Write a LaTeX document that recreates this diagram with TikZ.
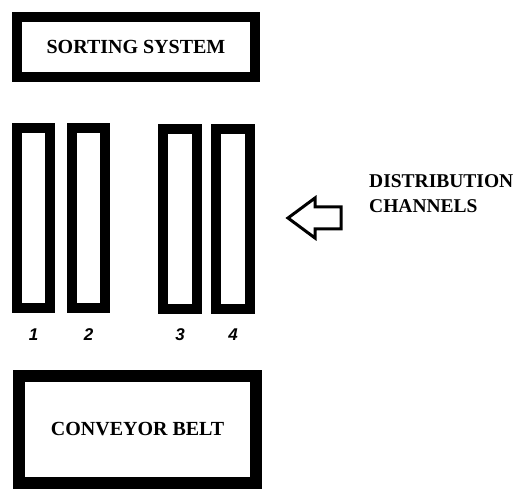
\documentclass[tikz,border=0pt]{standalone}
\usepackage{fontspec}
\setmainfont{Liberation Serif}
\newfontfamily\numfont{Liberation Sans}
\usetikzlibrary{positioning}
\begin{document}
\begin{tikzpicture}[x=1pt,y=-1pt,
        box/.style={draw,inner sep=0,font=\fontsize{20}{24}\selectfont\bfseries},
        chan/.style={draw,line width=10pt,inner sep=0,minimum width=33.5pt,minimum height=180pt},
        num/.style={inner sep=0,text height=12pt,text depth=0pt,font=\numfont\fontsize{17}{20}\selectfont\bfseries\itshape}]
        \useasboundingbox (0,0) rectangle (517,489);
        % top and bottom blocks
        \node [box,line width=10pt,minimum width=238pt,minimum height=60pt] (sort) at (136,47) {SORTING SYSTEM};
        \node [box,line width=12pt,minimum width=237pt,minimum height=107pt] (belt) at (137.5,429.5) {CONVEYOR BELT};
        % channels
        \node [chan] (ch1) at (33.5,218) {};
        \node [chan] (ch2) at (88.5,218) {};
        \node [chan] (ch3) at (180,219) {};
        \node [chan] (ch4) at (233,219) {};
        \node [num,below=15pt of ch1] {1};
        \node [num,below=15pt of ch2] {2};
        \node [num,below=14pt of ch3] {3};
        \node [num,below=14pt of ch4] {4};
        % arrow
        \coordinate (tip) at (288,218);
        \draw [line width=3pt,line join=miter] (tip)--(315,198)--(315,207)--(341,207)
            --(341,229)--(315,229)--(315,238)--cycle;
        \node [anchor=base west,align=left,inner sep=0,font=\fontsize{19.5}{25}\selectfont\bfseries] (dist) at (369,213) {DISTRIBUTION\\CHANNELS};
\end{tikzpicture}
\end{document}
